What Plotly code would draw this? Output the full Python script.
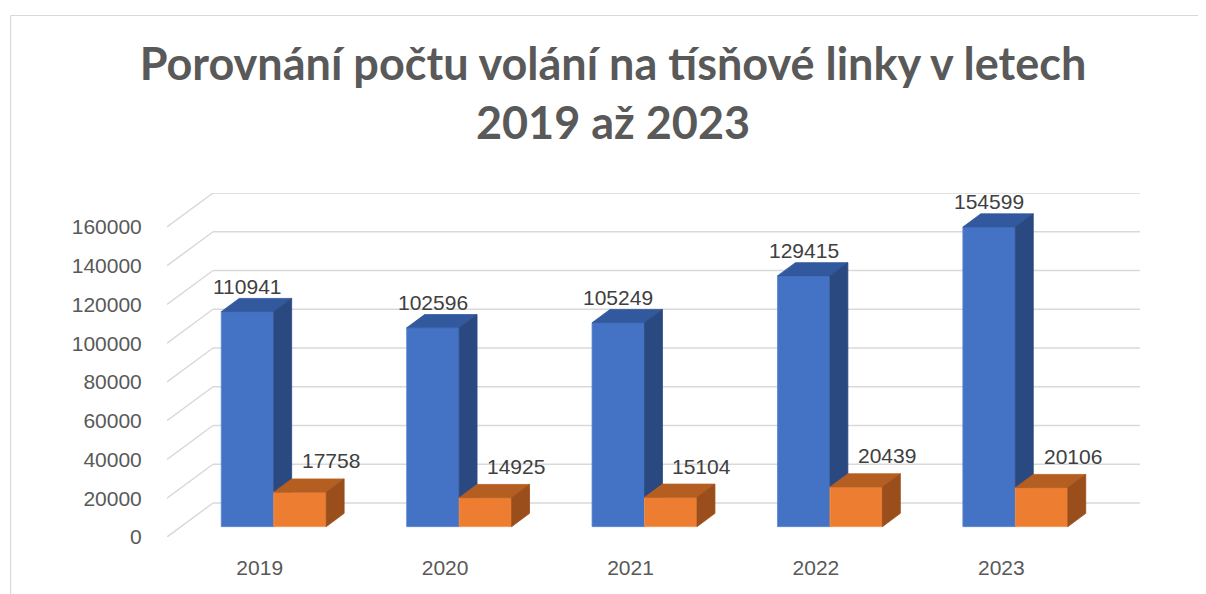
import plotly.graph_objects as go

# ---- data ----
years = ["2019", "2020", "2021", "2022", "2023"]
calls_a = [110941, 102596, 105249, 129415, 154599]   # blue series
calls_b = [17758, 14925, 15104, 20439, 20106]         # orange series
y_ticks = [0, 20000, 40000, 60000, 80000, 100000, 120000, 140000, 160000]
title_text = "Porovnání počtu volání na tísňové linky v letech<br>2019 až 2023"

# ---- pseudo-3D geometry (styling) ----
DX = 0.248        # depth offset in category units
DY = 17548        # depth offset in value units
F0, F1 = 0.305, 0.695   # bar front/back depth fractions
BW = 0.283        # bar width (category units)

blue = dict(front="#4472C4", top="#32589E", side="#2A4980", edge="#5A86D0")
orange = dict(front="#ED7D31", top="#B55E22", side="#994E1B", edge="#F29A5C")

fig = go.Figure()

def faces(vals, x_off, col, name):
    fx, fy, tx, ty, sx, sy = [], [], [], [], [], []
    for i, v in enumerate(vals):
        x0 = i + DX * F0 + x_off
        x1 = x0 + BW
        b0 = DY * F0
        ddx = DX * (F1 - F0)
        ddy = DY * (F1 - F0)
        fx += [x0, x1, x1, x0, x0, None]
        fy += [b0, b0, b0 + v, b0 + v, b0, None]
        tx += [x0, x1, x1 + ddx, x0 + ddx, x0, None]
        ty += [b0 + v, b0 + v, b0 + v + ddy, b0 + v + ddy, b0 + v, None]
        sx += [x1, x1 + ddx, x1 + ddx, x1, x1, None]
        sy += [b0, b0 + ddy, b0 + v + ddy, b0 + v, b0, None]
    for xs, ys, c in [(fx, fy, col["front"]), (tx, ty, col["top"]), (sx, sy, col["side"])]:
        fig.add_trace(go.Scatter(x=xs, y=ys, mode="lines", fill="toself",
                                 fillcolor=c, line=dict(color=col["edge"] if c == col["front"] else c, width=0.8),
                                 hoverinfo="skip", showlegend=False, name=name))

faces(calls_a, -BW, blue, "A")
faces(calls_b, 0.0, orange, "B")

# gridlines (back wall + left wall) as shapes below traces
n = len(years)
for v in y_ticks:
    fig.add_shape(type="line", xref="x", yref="y", layer="below",
                  x0=-0.5, y0=v, x1=-0.5 + DX, y1=v + DY,
                  line=dict(color="#D9D9D9", width=1.5))
    fig.add_shape(type="line", xref="x", yref="y", layer="below",
                  x0=-0.5 + DX, y0=v + DY, x1=n - 0.5 + DX, y1=v + DY,
                  line=dict(color="#D9D9D9", width=1.5))

# data labels
lab_font = dict(family="Liberation Sans, Arial, sans-serif", size=21, color="#404040")
for i in range(n):
    xa = i + DX * F0 - BW / 2
    fig.add_annotation(x=xa, y=calls_a[i] + DY * F1, text=str(calls_a[i]),
                       showarrow=False, yshift=12, font=lab_font, yanchor="middle")
    xb = i + DX * F0 + BW / 2
    fig.add_annotation(x=xb, y=calls_b[i] + DY * F1, text=str(calls_b[i]),
                       showarrow=False, xshift=31, yshift=18, font=lab_font, yanchor="middle")

# page has an 8px body margin -> figure is 1198x586 placed at (8, 8)
W, H = 1198, 586
L, R, T, B = 159, 65.5, 185, 57
pw, ph = W - L - R, H - T - B
px = lambda p: (p - L) / pw
py = lambda p: (H - B - p) / ph
fig.add_shape(type="line", xref="paper", yref="paper", x0=px(2.5), y0=py(7.5), x1=px(W), y1=py(7.5),
              line=dict(color="#D9D9D9", width=1.2))
fig.add_shape(type="line", xref="paper", yref="paper", x0=px(2.5), y0=py(7.5), x1=px(2.5), y1=py(H + 5),
              line=dict(color="#D9D9D9", width=1.2))

tick_font = dict(family="Liberation Sans, Arial, sans-serif", size=21, color="#595959")
fig.update_layout(
    width=W, height=H,
    margin=dict(l=L, r=R, t=T, b=B, autoexpand=False),
    paper_bgcolor="white", plot_bgcolor="white",
    title=dict(text=title_text, x=0.505, xref="container", xanchor="center",
               y=1 - 72 / H, yref="container", yanchor="middle",
               font=dict(family="Lato, sans-serif", size=45, color="#595959", weight="bold")),
    xaxis=dict(range=[-0.5, n - 0.5 + DX], tickmode="array", tickvals=list(range(n)), ticktext=years,
               showgrid=False, zeroline=False, showline=False, ticks="outside", ticklen=12,
               tickcolor="rgba(0,0,0,0)", tickfont=tick_font, fixedrange=True, automargin=False),
    yaxis=dict(range=[0, y_ticks[-1] + DY], tickmode="array", tickvals=y_ticks,
               ticktext=[str(v) for v in y_ticks],
               showgrid=False, zeroline=False, showline=False, ticks="outside", ticklen=20,
               tickcolor="rgba(0,0,0,0)", tickfont=tick_font, fixedrange=True, automargin=False),
    showlegend=False,
)

fig.write_html("out.html")
